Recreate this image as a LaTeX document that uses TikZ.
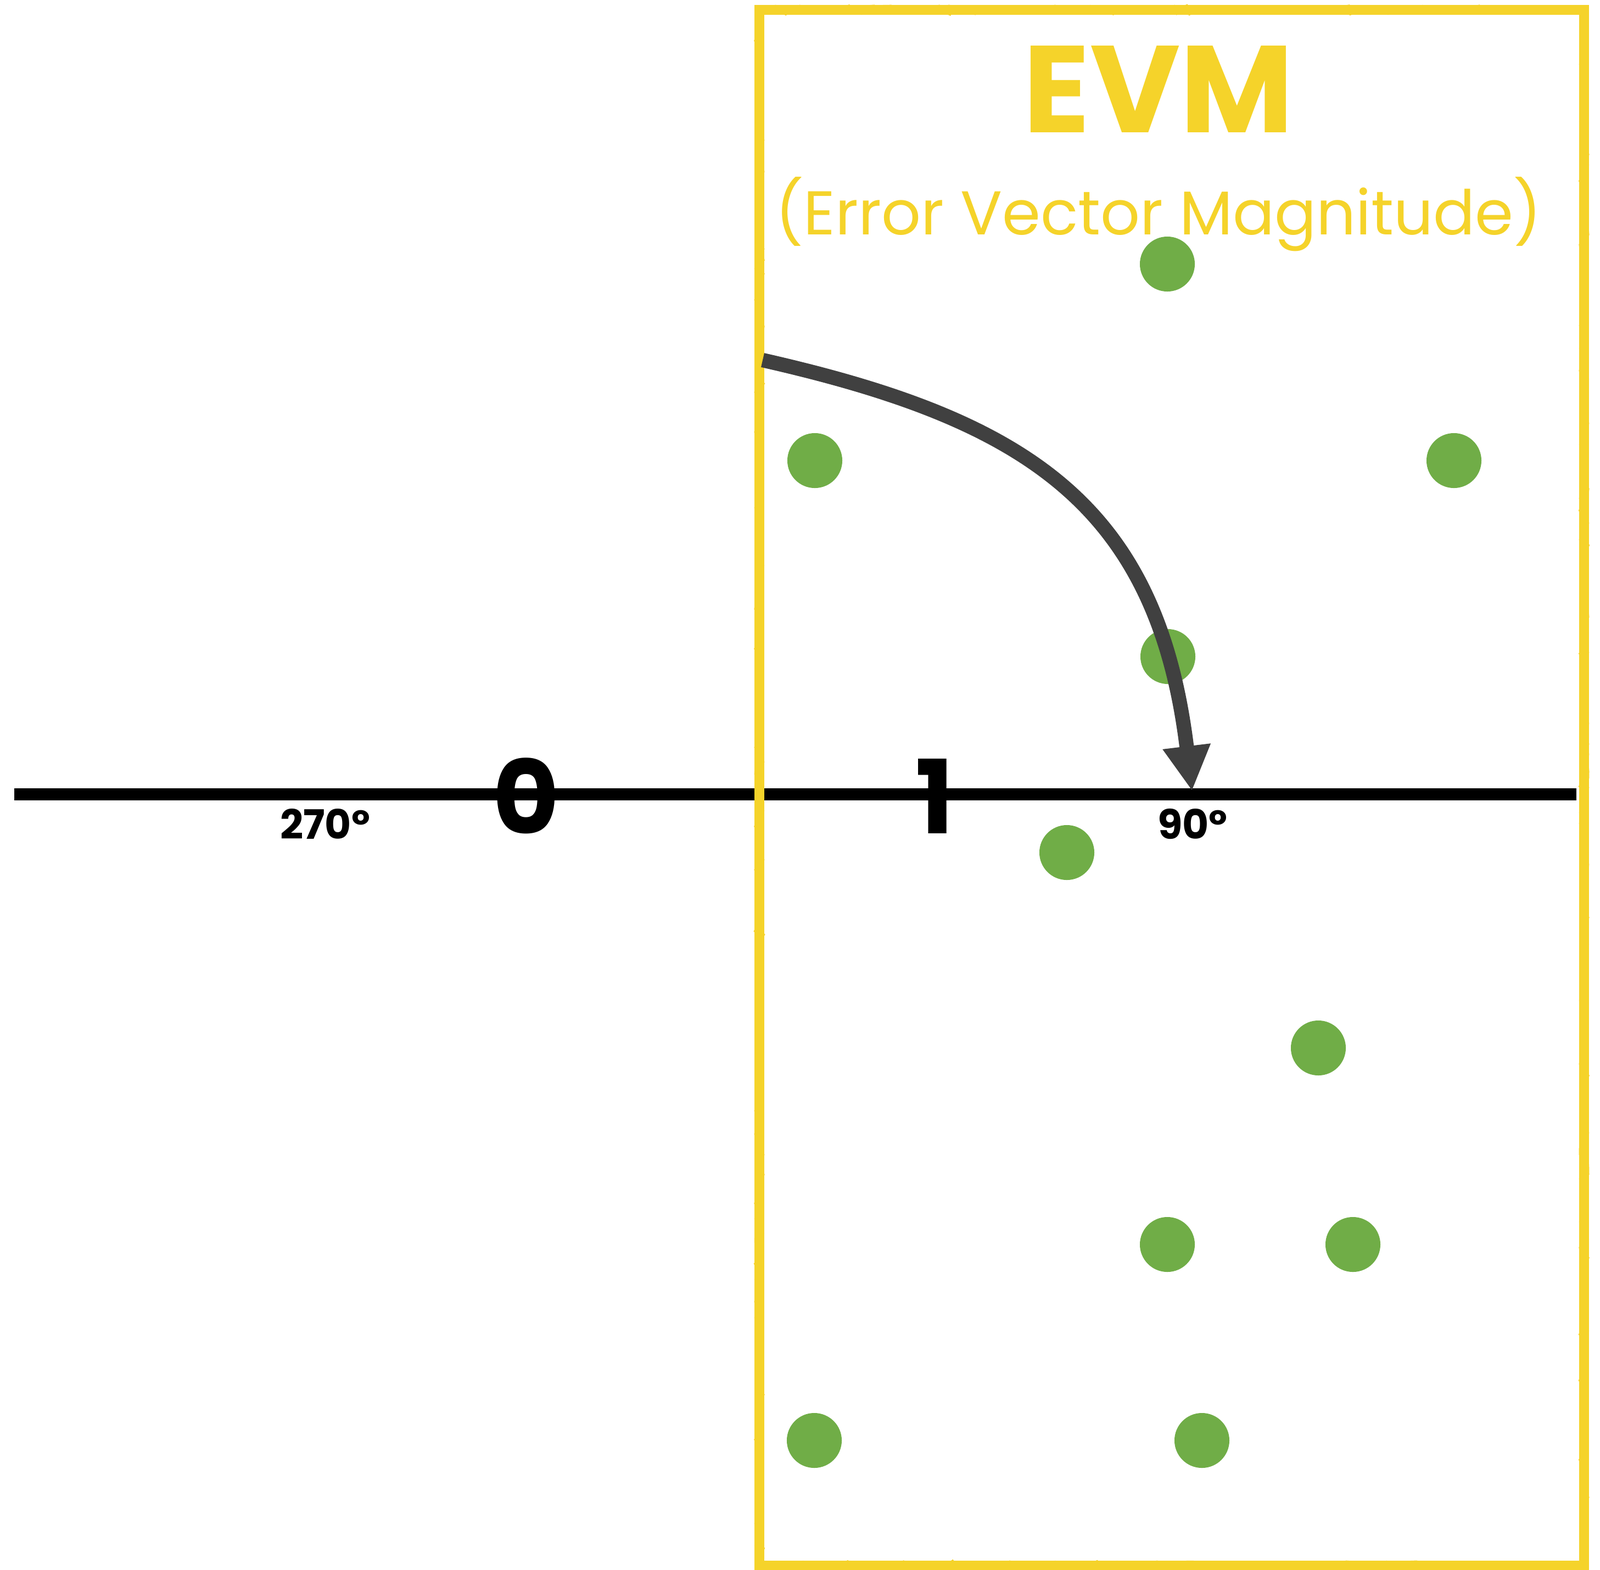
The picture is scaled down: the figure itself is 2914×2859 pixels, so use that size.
\documentclass[tikz,border=0pt]{standalone}
\usepackage{fontspec}
\setmainfont{Poppins}
\usetikzlibrary{arrows.meta,decorations.pathmorphing}
\definecolor{evmyellow}{HTML}{F5D32A}
\definecolor{dotgreen}{HTML}{70AD47}
\definecolor{arcgray}{HTML}{404040}

\begin{document}
\begin{tikzpicture}[x=0.01cm,y=-0.01cm,
  dot/.style={circle,fill=dotgreen,minimum size=1cm,inner sep=0pt},
  numlabel/.style={inner sep=0pt,font=\bfseries\fontsize{53}{53}\selectfont},
  deglabel/.style={inner sep=0pt,font=\bfseries\fontsize{21}{21}\selectfont},
  evmtext/.style={text=evmyellow,inner sep=0pt},
  roughline/.style={evmyellow,line width=3pt,
    decorate,decoration={random steps,segment length=3pt,amplitude=1.2pt}}]
  \useasboundingbox (0,0) rectangle (2914,2859);
  % axis and box
  \coordinate (axisL) at (26,1447);
  \coordinate (axisR) at (2871,1447);
  \coordinate (boxNW) at (1383,18);
  \coordinate (boxSE) at (2885,2852);
  \coordinate (boxSW) at (1383,2852);
  \draw[line width=6pt] (axisL)--(axisR);
  \draw[line width=5pt] (boxNW)--(boxSW);
  \draw[evmyellow,line width=5pt] (boxNW) rectangle (boxSE);
  \draw[roughline] (boxNW) rectangle (boxSE);
  % title
  \node[evmtext,font=\bfseries\fontsize{64}{64}\selectfont] (evm) at (2110,162) {EVM};
  \node[evmtext,font=\fontsize{32}{32}\selectfont] (evmlong) at (2110,390) {(Error Vector Magnitude)};
  % constellation points
  \node[dot] (p1) at (2126,481) {};
  \node[dot] (p2) at (1484,839) {};
  \node[dot] (p3) at (2648,839) {};
  \node[dot] (p4) at (2127,1196) {};
  \node[dot] (p5) at (1943,1553) {};
  \node[dot] (p6) at (2401,1909) {};
  \node[dot] (p7) at (2126,2267) {};
  \node[dot] (p8) at (2464,2267) {};
  \node[dot] (p9) at (1483,2624) {};
  \node[dot] (p10) at (2189,2624) {};
  % rotation arrow
  \coordinate (arcstart) at (1389,656);
  \coordinate (arctip) at (2171,1441);
  \draw[arcgray,line width=7.5pt,-{Triangle[length=0.82cm,width=0.82cm]}]
    (arcstart) .. controls (1870,765) and (2108,920) .. (arctip);
  % labels
  \node[numlabel] (zero) at (958,1450) {0};
  \node[numlabel] (one) at (1703,1450) {1};
  \node[deglabel] (deg270) at (592,1501) {270º};
  \node[deglabel] (deg90) at (2172,1501) {90º};
\end{tikzpicture}
\end{document}
